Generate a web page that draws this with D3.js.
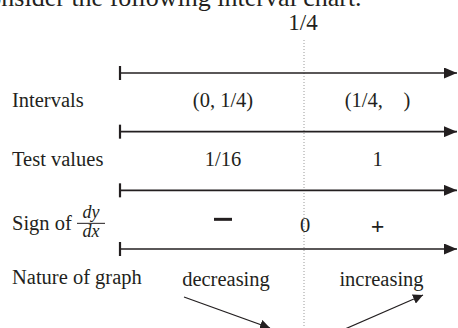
<!DOCTYPE html>
<html>
<head>
<meta charset="utf-8">
<script src="https://cdn.jsdelivr.net/npm/d3@7"></script>
<style>
html,body{margin:0;padding:0;background:#fff;overflow:hidden}
svg{display:block}
text{font-family:"Liberation Serif","Times New Roman",serif;fill:#231f20;white-space:pre}
</style>
</head>
<body>
<svg id="chart" width="458" height="328"></svg>
<script>
const headerText = "Consider the following interval chart.";
const criticalLabel = "1/4";
const rowLabels = ["Intervals", "Test values", "Sign of", "Nature of graph"];
const intervals = ["(0, 1/4)", "(1/4,    )"];
const testValues = ["1/16", "1"];
const signs = ["\u2212", "+"];
const criticalSign = "0";
const nature = ["decreasing", "increasing"];

const svg = d3.select("#chart");
const ink = "#231f20";

const defs = svg.append("defs");
defs.append("marker")
  .attr("id", "ah").attr("viewBox", "0 0 10 10")
  .attr("refX", 10).attr("refY", 5)
  .attr("markerWidth", 10).attr("markerHeight", 10)
  .attr("markerUnits", "userSpaceOnUse")
  .attr("orient", "auto")
  .append("path").attr("d", "M0,0L10,5L0,10Z").attr("fill", ink);
defs.append("marker")
  .attr("id", "ahBig").attr("viewBox", "0 0 13 11")
  .attr("refX", 13).attr("refY", 5.5)
  .attr("markerWidth", 13).attr("markerHeight", 11)
  .attr("markerUnits", "userSpaceOnUse")
  .attr("orient", "auto")
  .append("path").attr("d", "M0,0L13,5.5L0,11Z").attr("fill", ink);

// horizontal: 0 = start of chart, 1 = critical point, 2 = end
const xc = d3.scaleLinear().domain([0, 1, 2]).range([120, 304, 457]);
const segCenter = i => i === 0 ? (xc(0) + xc(1)) / 2 + 11 : (xc(1) + xc(2)) / 2 - 3;

// vertical: row index -> y of the row's top axis line
const y = d3.scaleLinear().domain([0, rowLabels.length - 1]).range([73, 249]);

// header (clipped at the top)
svg.append("text").attr("x", -29).attr("y", 6)
  .attr("font-size", 26).text(headerText);

// critical point label
svg.append("text").attr("x", xc(1) - 1).attr("y", 30)
  .attr("text-anchor", "middle").attr("font-size", 23).text(criticalLabel);

// dotted vertical line
svg.append("line").attr("x1", xc(1)).attr("x2", xc(1))
  .attr("y1", 40).attr("y2", 328)
  .attr("stroke", "#9a9a9a").attr("stroke-width", 1)
  .attr("stroke-dasharray", "1,2");

// axis lines
const rows = svg.selectAll("g.row").data(rowLabels).join("g")
  .attr("class", "row").attr("transform", (d, i) => `translate(0,${y(i)})`);
rows.append("line").attr("x1", xc(0)).attr("x2", xc(2))
  .attr("y1", 0).attr("y2", 0)
  .attr("stroke", ink).attr("stroke-width", 1.6)
  .attr("marker-end", "url(#ahBig)");
rows.append("line").attr("x1", xc(0)).attr("x2", xc(0))
  .attr("y1", -7).attr("y2", 7)
  .attr("stroke", ink).attr("stroke-width", 2.2);

// row labels
const fs = 20.5;
const base = i => y(i) + 34;
svg.selectAll("text.rl").data(rowLabels).join("text")
  .attr("class", "rl").attr("x", 12).attr("y", (d, i) => base(i) + (i === 2 ? 6 : 0) + (i === 3 ? 1 : 0))
  .attr("font-size", fs).text(d => d);

// dy/dx fraction
const fx = 91;
svg.append("text").attr("x", fx).attr("y", base(2) - 6).attr("text-anchor", "middle")
  .attr("font-size", 18).attr("font-style", "italic").text("dy");
svg.append("line").attr("x1", fx - 14).attr("x2", fx + 14)
  .attr("y1", base(2) - 1).attr("y2", base(2) - 1)
  .attr("stroke", ink).attr("stroke-width", 1);
svg.append("text").attr("x", fx).attr("y", base(2) + 13).attr("text-anchor", "middle")
  .attr("font-size", 18).attr("font-style", "italic").text("dx");

// interval row
svg.selectAll("text.iv").data(intervals).join("text")
  .attr("class", "iv").attr("x", (d, i) => segCenter(i)).attr("y", base(0))
  .attr("text-anchor", "middle").attr("font-size", fs).text(d => d);

// test values row
svg.selectAll("text.tv").data(testValues).join("text")
  .attr("class", "tv").attr("x", (d, i) => segCenter(i)).attr("y", base(1))
  .attr("text-anchor", "middle").attr("font-size", fs).text(d => d);

// signs: minus drawn as a heavy bar, plus as bold text
svg.append("line").datum(signs[0])
  .attr("x1", segCenter(0) - 9).attr("x2", segCenter(0) + 9)
  .attr("y1", y(2) + 29).attr("y2", y(2) + 29)
  .attr("stroke", ink).attr("stroke-width", 3);
svg.append("text").datum(signs[1]).attr("x", segCenter(1)).attr("y", y(2) + 44)
  .attr("text-anchor", "middle").attr("font-size", 24).attr("font-weight", "bold")
  .attr("font-family", "Liberation Sans, Arial, sans-serif").text(d => d);
svg.append("text").attr("x", xc(1) + 1).attr("y", base(2) + 8)
  .attr("text-anchor", "middle").attr("font-size", fs).text(criticalSign);

// nature row
svg.selectAll("text.nt").data(nature).join("text")
  .attr("class", "nt").attr("x", (d, i) => segCenter(i) + (i === 0 ? 3 : 4)).attr("y", base(3) + 3)
  .attr("text-anchor", "middle").attr("font-size", fs).text(d => d);

// trend arrows
svg.append("line").attr("x1", 184).attr("y1", 297).attr("x2", 270).attr("y2", 328)
  .attr("stroke", ink).attr("stroke-width", 1.2).attr("marker-end", "url(#ah)");
svg.append("line").attr("x1", 345).attr("y1", 329).attr("x2", 423).attr("y2", 295)
  .attr("stroke", ink).attr("stroke-width", 1.2).attr("marker-end", "url(#ah)");
</script>
</body>
</html>
